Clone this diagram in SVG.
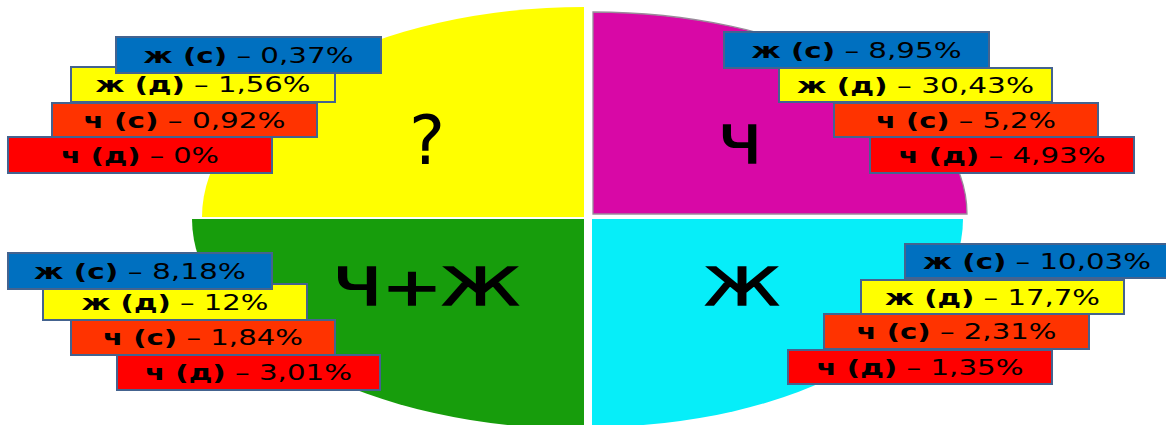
<svg xmlns="http://www.w3.org/2000/svg" width="1166" height="425" viewBox="0 0 1166 425">
<style>
.lbl{font-family:"DejaVu Sans","Liberation Sans",sans-serif;font-size:22px;fill:#000;text-anchor:middle}
.b{font-weight:bold}
.big{font-family:"DejaVu Sans","Liberation Sans",sans-serif;fill:#000;text-anchor:middle}
.thick{stroke:#000;stroke-width:1.6}
.box{stroke:#44638f;stroke-width:2}
.bl{fill:#0070c0}.ye{fill:#ffff00}.or{fill:#ff3300}.rd{fill:#ff0000}
</style>
<rect width="1166" height="425" fill="#ffffff"/>
<g id="quadrants">
<path id="q-yellow" d="M584,217 L584,7 A382,210 0 0 0 202,217 Z" fill="#ffff00"/>
<path id="q-magenta" d="M593,214 L593,12 A374,202 0 0 1 967,214 Z" fill="#d808a6" stroke="#9a8a9a" stroke-width="1.3"/>
<path id="q-green" d="M584,219 L192,219 A392,210 0 0 0 584,429 Z" fill="#179d0c"/>
<path id="q-cyan" d="M592,219 L963,219 A371,208 0 0 1 592,427 Z" fill="#06eef9"/>
</g>
<g id="titles">
<text class="big" x="427" y="164" font-size="68">?</text>
<text class="big thick" x="740" y="163" font-size="51" textLength="43" lengthAdjust="spacingAndGlyphs">Ч</text>
<text class="big thick" x="426" y="305" font-size="52" textLength="186" lengthAdjust="spacingAndGlyphs">Ч+Ж</text>
<text class="big thick" x="742" y="305" font-size="52" textLength="74" lengthAdjust="spacingAndGlyphs">Ж</text>
</g>
<g id="group-top-left">
<rect class="box rd" x="8" y="137" width="264" height="36"/>
<text class="lbl" x="140" y="162.5" textLength="158" lengthAdjust="spacingAndGlyphs"><tspan class="b">ч (д)</tspan> – 0%</text>
<rect class="box or" x="52" y="103" width="265" height="34"/>
<text class="lbl" x="184.5" y="127.5" textLength="202" lengthAdjust="spacingAndGlyphs"><tspan class="b">ч (с)</tspan> – 0,92%</text>
<rect class="box ye" x="71" y="67" width="264" height="35"/>
<text class="lbl" x="203" y="92" textLength="215" lengthAdjust="spacingAndGlyphs"><tspan class="b">ж (д)</tspan> – 1,56%</text>
<rect class="box bl" x="116" y="37" width="265" height="36"/>
<text class="lbl" x="248.5" y="62.5" textLength="210" lengthAdjust="spacingAndGlyphs"><tspan class="b">ж (с)</tspan> – 0,37%</text>
</g>
<g id="group-top-right">
<rect class="box rd" x="870" y="137" width="264" height="36"/>
<text class="lbl" x="1002" y="162.5" textLength="207" lengthAdjust="spacingAndGlyphs"><tspan class="b">ч (д)</tspan> – 4,93%</text>
<rect class="box or" x="834" y="103" width="264" height="34"/>
<text class="lbl" x="966" y="127.5" textLength="180" lengthAdjust="spacingAndGlyphs"><tspan class="b">ч (с)</tspan> – 5,2%</text>
<rect class="box ye" x="779" y="68" width="273" height="34"/>
<text class="lbl" x="915.5" y="92.5" textLength="237" lengthAdjust="spacingAndGlyphs"><tspan class="b">ж (д)</tspan> – 30,43%</text>
<rect class="box bl" x="724" y="32" width="265" height="36"/>
<text class="lbl" x="856.5" y="57.5" textLength="210" lengthAdjust="spacingAndGlyphs"><tspan class="b">ж (с)</tspan> – 8,95%</text>
</g>
<g id="group-bottom-left">
<rect class="box rd" x="117" y="355" width="263" height="35"/>
<text class="lbl" x="248.5" y="380" textLength="207" lengthAdjust="spacingAndGlyphs"><tspan class="b">ч (д)</tspan> – 3,01%</text>
<rect class="box or" x="71" y="320" width="264" height="35"/>
<text class="lbl" x="203" y="345" textLength="200" lengthAdjust="spacingAndGlyphs"><tspan class="b">ч (с)</tspan> – 1,84%</text>
<rect class="box ye" x="43" y="284" width="264" height="36"/>
<text class="lbl" x="175" y="309.5" textLength="187" lengthAdjust="spacingAndGlyphs"><tspan class="b">ж (д)</tspan> – 12%</text>
<rect class="box bl" x="8" y="253" width="264" height="36"/>
<text class="lbl" x="140" y="278.5" textLength="212" lengthAdjust="spacingAndGlyphs"><tspan class="b">ж (с)</tspan> – 8,18%</text>
</g>
<g id="group-bottom-right">
<rect class="box rd" x="788" y="350" width="264" height="34"/>
<text class="lbl" x="920" y="374.5" textLength="207" lengthAdjust="spacingAndGlyphs"><tspan class="b">ч (д)</tspan> – 1,35%</text>
<rect class="box or" x="824" y="314" width="265" height="35"/>
<text class="lbl" x="956.5" y="339" textLength="200" lengthAdjust="spacingAndGlyphs"><tspan class="b">ч (с)</tspan> – 2,31%</text>
<rect class="box ye" x="861" y="280" width="263" height="34"/>
<text class="lbl" x="992.5" y="304.5" textLength="215" lengthAdjust="spacingAndGlyphs"><tspan class="b">ж (д)</tspan> – 17,7%</text>
<rect class="box bl" x="905" y="244" width="264" height="34"/>
<text class="lbl" x="1037" y="268.5" textLength="228" lengthAdjust="spacingAndGlyphs"><tspan class="b">ж (с)</tspan> – 10,03%</text>
</g>
<g id="connectors"/>
</svg>
